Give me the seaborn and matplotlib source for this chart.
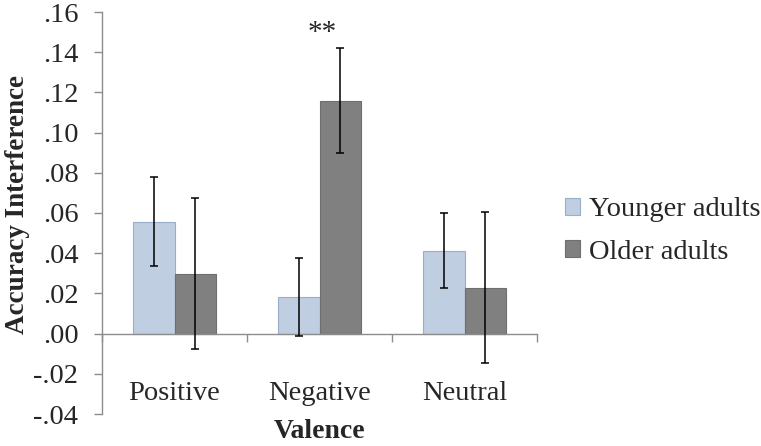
import pandas as pd
import matplotlib.pyplot as plt
import seaborn as sns

valence = ['Positive', 'Negative', 'Neutral']
groups = ['Younger adults', 'Older adults']
younger_mean = [0.0557, 0.0184, 0.0413]
younger_err = [0.0220, 0.0194, 0.0186]
older_mean = [0.0299, 0.1159, 0.0229]
older_err = [0.0378, 0.0261, 0.0376]
ytick_values = [-0.04, -0.02, 0.00, 0.02, 0.04, 0.06, 0.08, 0.10, 0.12, 0.14, 0.16]
ytick_labels = ['-.04', '-.02', '.00', '.02', '.04', '.06', '.08', '.10', '.12', '.14', '.16']

bar_colors = ['#B9CDE5', '#808080']
edge_colors = ['#98AECB', '#6E6E6E']
axis_gray = '#8C8C8C'
fs = 20.5


def make_chart():
    df = pd.DataFrame({
        'Valence': valence * 2,
        'Group': [groups[0]] * 3 + [groups[1]] * 3,
        'Value': younger_mean + older_mean,
        'Err': younger_err + older_err,
    })

    sns.set_style('white')
    plt.rcParams['font.family'] = ['Liberation Serif', 'DejaVu Serif']

    fig = plt.figure(figsize=(7.61, 4.46), dpi=100)
    ax = fig.add_axes([102 / 761, 1 - 414 / 446, 435 / 761, 402 / 446])

    sns.barplot(data=df, x='Valence', y='Value', hue='Group', order=valence,
                hue_order=groups, palette=bar_colors, width=0.573,
                errorbar=None, ax=ax, linewidth=0.8)

    # colour the outlines and add the error bars at the bar centres
    bar_containers = list(ax.containers)
    for i, cont in enumerate(bar_containers):
        errs = df[df['Group'] == groups[i]].set_index('Valence').loc[valence, 'Err']
        xs, ys = [], []
        for bar in cont:
            bar.set_edgecolor(edge_colors[i])
            xs.append(bar.get_x() + bar.get_width() / 2)
            ys.append(bar.get_height())
        ax.errorbar(xs, ys, yerr=errs.values, fmt='none', ecolor='black',
                    elinewidth=1.1, capsize=3, capthick=1.1, zorder=5)

    ax.set_xlim(-0.5, 2.5)
    ax.set_ylim(-0.04, 0.16)
    ax.set_yticks(ytick_values)
    ax.set_yticklabels(ytick_labels)

    for side in ['top', 'right']:
        ax.spines[side].set_visible(False)
    for side in ['left', 'bottom']:
        ax.spines[side].set_color(axis_gray)
        ax.spines[side].set_linewidth(1.0)
    ax.spines['bottom'].set_position(('data', 0))

    # category boundaries get the tick marks, labels sit at the centres
    ax.set_xticks([-0.5, 0.5, 1.5, 2.5], minor=True)
    ax.tick_params(axis='x', which='major', length=0, pad=34, labelsize=fs)
    ax.tick_params(axis='x', which='minor', direction='out', length=6,
                   width=1.0, color=axis_gray, bottom=True)
    ax.tick_params(axis='y', direction='out', length=6, width=1.0,
                   color=axis_gray, pad=11, labelsize=fs, left=True)

    ax.set_xlabel('Valence', fontsize=20, fontweight='bold')
    ax.xaxis.set_label_coords(0.5, -0.013)
    ax.set_ylabel('Accuracy Interference', fontsize=19.5, fontweight='bold')
    ax.yaxis.set_label_coords(-0.166, 0.522)

    ax.text(1.02, 0.1495, '**', ha='center', va='center', fontsize=21)

    ax.legend(handles=bar_containers, labels=groups, loc='center left',
              bbox_to_anchor=(0.727, 0.482), bbox_transform=fig.transFigure,
              frameon=False, fontsize=fs, handlelength=0.55, handleheight=0.55,
              handletextpad=0.3, labelspacing=0.62, borderaxespad=0)

    fig.savefig('out.png', dpi=100)
    plt.close(fig)


if __name__ == '__main__':
    make_chart()
